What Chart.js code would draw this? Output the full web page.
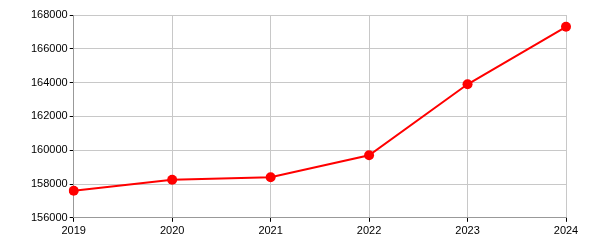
<!DOCTYPE html>
<html>
<head>
<meta charset="utf-8">
<script src="https://cdn.jsdelivr.net/npm/chart.js@4"></script>
<style>
  html, body { margin: 0; padding: 0; background: #fff; }
  #wrap { width: 600px; height: 250px; }
</style>
</head>
<body>
<div id="wrap"><canvas id="chart" width="600" height="250"></canvas></div>
<script>
const years = ['2019', '2020', '2021', '2022', '2023', '2024'];
const values = [157600, 158250, 158400, 159700, 163900, 167300];
const yMin = 156000;
const yMax = 168000;
const yStep = 2000;

const LINE = '#FF0000';
const GRID = '#C8C8C8';
const AXIS = '#999999';
const TEXT = '#000000';

new Chart(document.getElementById('chart'), {
  type: 'line',
  data: {
    labels: years,
    datasets: [{
      data: values,
      borderColor: LINE,
      backgroundColor: LINE,
      borderWidth: 2,
      pointRadius: 5,
      pointHoverRadius: 5,
      pointBorderWidth: 0,
      tension: 0,
      fill: false
    }]
  },
  options: {
    responsive: false,
    animation: false,
    layout: { padding: { top: 15, right: 34, left: 29, bottom: 9 } },
    plugins: { legend: { display: false }, tooltip: { enabled: false } },
    scales: {
      x: {
        offset: false,
        grid: { color: GRID, tickColor: TEXT, tickLength: 4 },
        border: { color: AXIS },
        ticks: { color: TEXT, font: { family: 'Liberation Sans', size: 11 }, padding: 3, maxRotation: 0 }
      },
      y: {
        min: yMin,
        max: yMax,
        grid: { color: GRID, tickColor: TEXT, tickLength: 4 },
        border: { color: AXIS },
        ticks: {
          stepSize: yStep,
          color: TEXT,
          font: { family: 'Liberation Sans', size: 11 },
          padding: 2,
          callback: (v) => String(v)
        }
      }
    }
  }
});
</script>
</body>
</html>
